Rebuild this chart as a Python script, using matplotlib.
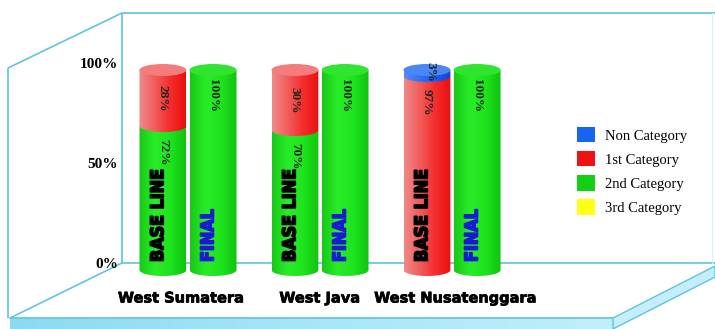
import numpy as np
import matplotlib
matplotlib.use("Agg")
import matplotlib.pyplot as plt
import matplotlib.patheffects as pe
from matplotlib.patches import PathPatch, Ellipse, Polygon, Patch
from matplotlib.path import Path
from matplotlib.colors import LinearSegmentedColormap

# ---- data -------------------------------------------------------------
regions = ["West Sumatera", "West Java", "West Nusatenggara"]
categories = ["Non Category", "1st Category", "2nd Category", "3rd Category"]

# baseline survey shares (%) per region
base_non = [0, 0, 3]
base_first = [28, 30, 97]
base_second = [72, 70, 0]
base_third = [0, 0, 0]

# final survey shares (%) per region
final_non = [0, 0, 0]
final_first = [0, 0, 0]
final_second = [100, 100, 100]
final_third = [0, 0, 0]

tick_values = [0, 50, 100]
tick_labels = ["0%", "50%", "100%"]

# ---- styling ----------------------------------------------------------
W, H = 715, 329
FRAME = "#5fc4de"
legend_colors = ["#1565f0", "#f01212", "#12d012", "#ffff14"]
body_stops = {
    "Non Category": ["#5a8cf5", "#3270f2", "#1a5cf0", "#1048c8"],
    "1st Category": ["#f08a8a", "#f25c5c", "#f52c2c", "#e81010"],
    "2nd Category": ["#18c818", "#28ec28", "#1ee41e", "#10c210"],
    "3rd Category": ["#ffff9a", "#ffff50", "#f5f514", "#d8d800"],
}
cap_colors = {
    "Non Category": "#4a86f6",
    "1st Category": "#f57c7c",
    "2nd Category": "#30e430",
    "3rd Category": "#ffff70",
}

fig = plt.figure(figsize=(W / 100, H / 100), dpi=100)
fig.patch.set_facecolor("white")

# ---- 3D frame decoration in pixel space --------------------------------
deco = fig.add_axes([0, 0, 1, 1])
deco.axis("off")

frame_lines = [
    [(122, 13), (715, 13)],     # top edge of back wall
    [(122, 13), (122, 263)],    # back wall left edge
    [(122, 263), (715, 263)],   # floor back edge
    [(8, 68), (122, 13)],       # side wall top
    [(8, 68), (8, 318)],        # side wall front edge
    [(10, 318), (122, 263)],    # floor left edge
]
for (x0, y0), (x1, y1) in frame_lines:
    deco.plot([x0, x1], [y0, y1], color=FRAME, lw=1.2, solid_capstyle="butt")
deco.plot([712, 712], [13, 263], color="#d8eef5", lw=0.8)

# floor front slab
grad = np.linspace(0, 1, 256)[None, :]
slab_cmap = LinearSegmentedColormap.from_list("slab", ["#8cdaf2", "#a8e6f7", "#c2eefa"])
deco.imshow(grad, cmap=slab_cmap, extent=[10, 613, 329, 318], aspect="auto", zorder=1)
deco.plot([10, 613], [318, 318], color=FRAME, lw=1.2, zorder=2)
side = Polygon([(613, 318), (715, 266), (715, 277), (613, 329)], closed=True,
               facecolor="#c4eef9", edgecolor=FRAME, lw=1.0, zorder=2)
deco.add_patch(side)
deco.set_xlim(0, W)
deco.set_ylim(H, 0)

# ---- back wall axis with percentage ticks -----------------------------
x_left, x_right = -0.5, 3.992
wall = fig.add_axes([122 / W, 1 - 263 / H, (W - 122) / W, 250 / H])
wall.set_xlim(x_left, x_right)
wall.set_ylim(0, 125)
wall.patch.set_alpha(0)
for s in wall.spines.values():
    s.set_visible(False)
wall.set_xticks([])
wall.set_yticks(tick_values)
wall.set_yticklabels(tick_labels, fontfamily="Liberation Serif", fontweight="bold",
                     fontsize=11)
wall.tick_params(axis="y", length=0, pad=3)

# ---- cylinders ---------------------------------------------------------
# 2 px per percentage point; extra room below zero for the rounded bottoms
ax = fig.add_axes([122 / W, 1 - 290 / H, (W - 122) / W, 270 / H])
ax.patch.set_alpha(0)
ax.axis("off")

bar_w = 0.355
offset = 0.19
cap_h = 6.0
x_pos = np.arange(len(regions))

base_series = {"Non Category": base_non, "1st Category": base_first,
               "2nd Category": base_second, "3rd Category": base_third}
final_series = {"Non Category": final_non, "1st Category": final_first,
                "2nd Category": final_second, "3rd Category": final_third}
stack_order = ["3rd Category", "2nd Category", "1st Category", "Non Category"]


def segment_path(xc, y0, y1):
    theta = np.linspace(np.pi, 2 * np.pi, 60)
    arc_x = xc + bar_w / 2 * np.cos(theta)
    arc_y = y0 + cap_h / 2 * np.sin(theta)
    verts = [(xc - bar_w / 2, y1)] + list(zip(arc_x, arc_y)) + \
            [(xc + bar_w / 2, y1), (xc - bar_w / 2, y1)]
    codes = [Path.MOVETO] + [Path.LINETO] * (len(verts) - 2) + [Path.CLOSEPOLY]
    return Path(verts, codes)


def draw_cylinder(xc, series, idx):
    bottom = 0.0
    top_cat = None
    segments = []
    for cat in stack_order:
        v = series[cat][idx]
        if v <= 0:
            continue
        segments.append((cat, bottom, bottom + v, v))
        bottom += v
        top_cat = cat
    for z, (cat, y0, y1, v) in enumerate(segments):
        cmap = LinearSegmentedColormap.from_list(cat, body_stops[cat])
        im = ax.imshow(grad, cmap=cmap, aspect="auto", interpolation="bilinear",
                       extent=[xc - bar_w / 2, xc + bar_w / 2, y0 - cap_h / 2, y1],
                       zorder=3 + z)
        clip = PathPatch(segment_path(xc, y0, y1), transform=ax.transData,
                         facecolor="none", edgecolor="none")
        im.set_clip_path(clip)
    if top_cat is not None:
        ax.add_patch(Ellipse((xc, bottom), bar_w, cap_h, facecolor=cap_colors[top_cat],
                             edgecolor="none", zorder=10))
    return segments


for i, xc in enumerate(x_pos):
    for series, dx, tag, tcolor in [(base_series, -offset, "BASE LINE", "black"),
                                    (final_series, offset, "FINAL", "#1a1ad2")]:
        segs = draw_cylinder(xc + dx, series, i)
        for cat, y0, y1, v in segs:
            if v < 40:
                ly = (y0 + y1) / 2 if v >= 10 else y1 - 1
            else:
                ly = y1 - 13
            lx = xc + dx + (0.03 if v < 10 else 0)
            ax.text(lx, ly, f"{v}%", rotation=270, ha="center", va="center",
                    fontfamily="Liberation Serif", fontweight="bold", fontsize=9.5,
                    color="#1c261c", zorder=12)
        ax.text(xc + dx - 0.035, 4, tag, rotation=90, ha="center", va="bottom",
                fontfamily="DejaVu Sans", fontstretch="condensed", fontweight="bold",
                fontsize=12.8, color=tcolor, zorder=12,
                path_effects=[pe.withStroke(linewidth=1.2, foreground=tcolor)])
    label_shift = [-0.05, -0.0, 0.03]
    ax.text(xc + label_shift[i], -14, regions[i],
            ha="center", va="center", fontfamily="DejaVu Sans", fontweight="bold",
            fontsize=10.5, color="black", clip_on=False, zorder=12,
            path_effects=[pe.withStroke(linewidth=0.5, foreground="black")])

ax.set_xlim(x_left, x_right)
ax.set_ylim(-10, 125)

# ---- legend ------------------------------------------------------------
handles = [Patch(facecolor=c, edgecolor="none") for c in legend_colors]
fig.legend(handles, categories, loc="upper left",
           bbox_to_anchor=(577 / W, 1 - 127 / H), frameon=False,
           prop={"family": "Liberation Serif", "size": 10.5},
           handlelength=1.25, handleheight=1.25, labelspacing=0.58,
           handletextpad=0.65, borderpad=0, borderaxespad=0)

fig.savefig("out.png", dpi=100)
